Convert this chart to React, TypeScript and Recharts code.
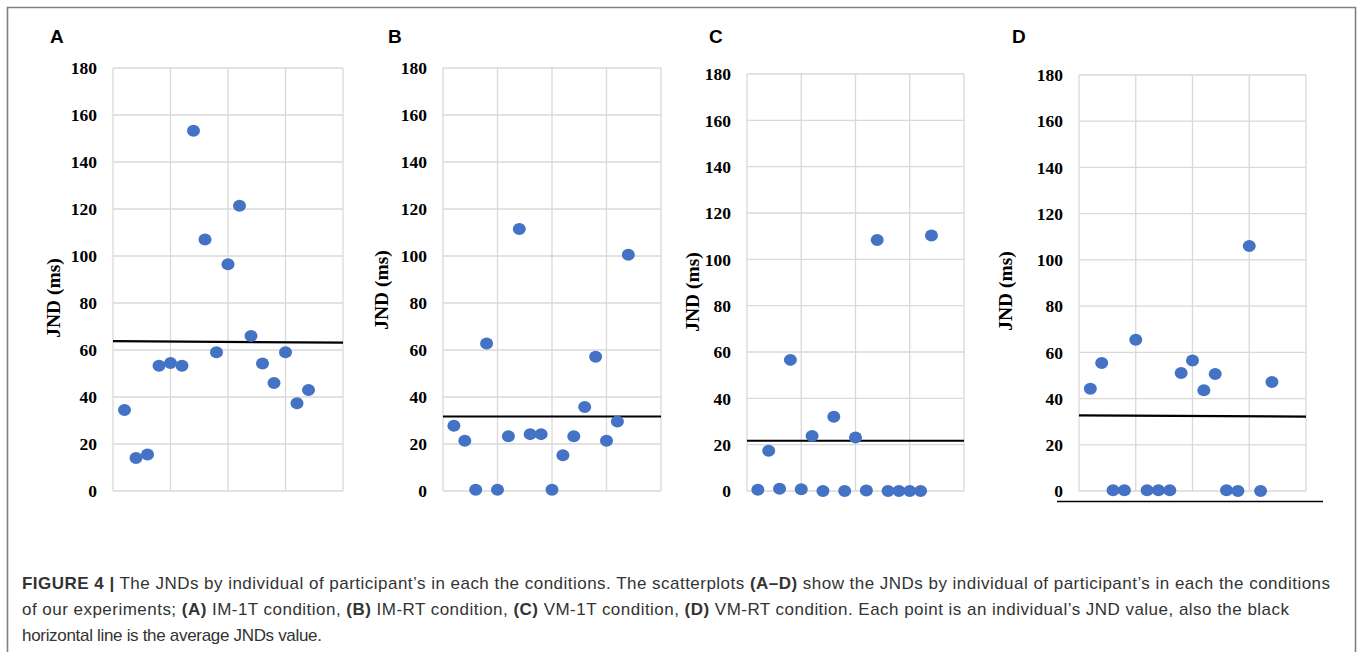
import React from 'react';
import { ScatterChart, Scatter, XAxis, YAxis, CartesianGrid, ReferenceLine } from 'recharts';

// participant index (x) shared by all four panels
const participants = [1, 2, 3, 4, 5, 6, 7, 8, 9, 10, 11, 12, 13, 14, 15, 16, 17];

// individual JND values (ms)
const jndA = [34.5, 14, 15.5, 53.3, 54.5, 53.3, 153.3, 107, 59, 96.5, 121.4, 66, 54.3, 46, 59, 37.3, 43];
const jndB = [27.8, 21.4, 0.5, 62.8, 0.5, 23.3, 111.5, 24.2, 24.2, 0.5, 15.2, 23.3, 35.7, 57.1, 21.4, 29.6, 100.5];
const jndC = [0.5, 17.4, 1, 56.6, 0.8, 23.7, 0, 32, 0, 23.1, 0.2, 108.3, 0, 0, 0, 0, 110.3];
const jndD = [44.2, 55.4, 0.3, 0.3, 65.4, 0.3, 0.3, 0.3, 51.1, 56.5, 43.6, 50.6, 0.3, 0, 106, 0, 47.2];

// average line (start / end value, the printed line is slightly tilted)
const meanA = [63.8, 63.1];
const meanB = [31.7, 31.7];
const meanC = [21.7, 21.7];
const meanD = [32.7, 32.2];

const panelLetters = ['A', 'B', 'C', 'D'];
const yTicks = [0, 20, 40, 60, 80, 100, 120, 140, 160, 180];
const xTicks = [0, 5, 10, 15, 20];

// layout of each plot area in page pixels
const layout = [
  { left: 113, top: 68, w: 230, h: 423, letterX: 50, titleX: 60, titleY: 298 },
  { left: 443, top: 68, w: 218, h: 423, letterX: 388, titleX: 388, titleY: 290 },
  { left: 747, top: 74, w: 217, h: 417, letterX: 709, titleX: 699, titleY: 292 },
  { left: 1079, top: 75, w: 227, h: 416, letterX: 1012, titleX: 1012, titleY: 291 },
];

const YW = 60;
const BLUE = '#4472C4';

const Dot = (props: any) => {
  const { cx, cy } = props;
  if (cx == null || cy == null) return null;
  return <ellipse cx={cx} cy={cy} rx={6.5} ry={6} fill={BLUE} />;
};

function Panel({ values, mean, idx }: { values: number[]; mean: number[]; idx: number }) {
  const l = layout[idx];
  const data = participants.map((p, i) => ({ x: p, y: values[i] }));
  return (
    <div style={{ position: 'absolute', left: l.left - YW, top: l.top - 10 }}>
      <ScatterChart width={YW + l.w + 10} height={l.h + 20} margin={{ top: 10, right: 10, bottom: 10, left: 0 }}>
        <CartesianGrid stroke="#d9d9d9" strokeWidth={1.3} fill="none" />
        <XAxis type="number" dataKey="x" domain={[0, 20]} ticks={xTicks} hide />
        <YAxis
          type="number"
          dataKey="y"
          domain={[0, 180]}
          ticks={yTicks}
          interval={0}
          width={YW}
          axisLine={false}
          tickLine={false}
          tickSize={6}
          tickMargin={10}
          tick={{ fill: '#000', fontSize: 17.5, fontFamily: 'Liberation Serif', fontWeight: 700 }}
        />
        <ReferenceLine
          segment={[{ x: 0, y: mean[0] }, { x: 20, y: mean[1] }]}
          stroke="#000"
          strokeWidth={2.2}
          ifOverflow="visible"
        />
        <Scatter data={data} shape={<Dot />} isAnimationActive={false} />
      </ScatterChart>
    </div>
  );
}

export default function App() {
  const bold = { fontWeight: 700 };
  return (
    <div style={{ position: 'fixed', left: 0, top: 0, width: 1362, height: 652, background: '#fff', overflow: 'hidden' }}>
      <svg width={1362} height={652} style={{ position: 'absolute', left: 0, top: 0 }}>
        {/* figure frame */}
        <path d="M7.5 652 V7.5 H1355.5 V652" fill="none" stroke="#808080" strokeWidth={1.6} />
        {layout.map((l, i) => (
          <g key={i}>
            <text x={l.letterX} y={43} fontFamily="Liberation Sans" fontWeight={700} fontSize={19} fill="#000">
              {panelLetters[i]}
            </text>
            <text
              x={l.titleX}
              y={l.titleY}
              transform={`rotate(-90 ${l.titleX} ${l.titleY})`}
              textAnchor="middle"
              fontFamily="Liberation Serif"
              fontWeight={700}
              fontSize={19.5}
              fill="#000"
            >
              JND (ms)
            </text>
          </g>
        ))}
        <line x1={1057} x2={1323} y1={501.5} y2={501.5} stroke="#000" strokeWidth={1.4} />
        <g fontFamily="Liberation Sans" fontSize={17} fill="#333">
          <text x={22} y={589} textLength={1308} lengthAdjust="spacing">
            <tspan style={bold}>FIGURE 4 |</tspan>
            {' The JNDs by individual of participant’s in each the conditions. The scatterplots '}
            <tspan style={bold}>(A–D)</tspan>
            {' show the JNDs by individual of participant’s in each the conditions'}
          </text>
          <text x={22} y={615} textLength={1267} lengthAdjust="spacing">
            {'of our experiments; '}
            <tspan style={bold}>(A)</tspan>
            {' IM-1T condition, '}
            <tspan style={bold}>(B)</tspan>
            {' IM-RT condition, '}
            <tspan style={bold}>(C)</tspan>
            {' VM-1T condition, '}
            <tspan style={bold}>(D)</tspan>
            {' VM-RT condition. Each point is an individual’s JND value, also the black'}
          </text>
          <text x={22} y={641} textLength={300} lengthAdjust="spacing">
            horizontal line is the average JNDs value.
          </text>
        </g>
      </svg>
      <Panel values={jndA} mean={meanA} idx={0} />
      <Panel values={jndB} mean={meanB} idx={1} />
      <Panel values={jndC} mean={meanC} idx={2} />
      <Panel values={jndD} mean={meanD} idx={3} />
    </div>
  );
}
